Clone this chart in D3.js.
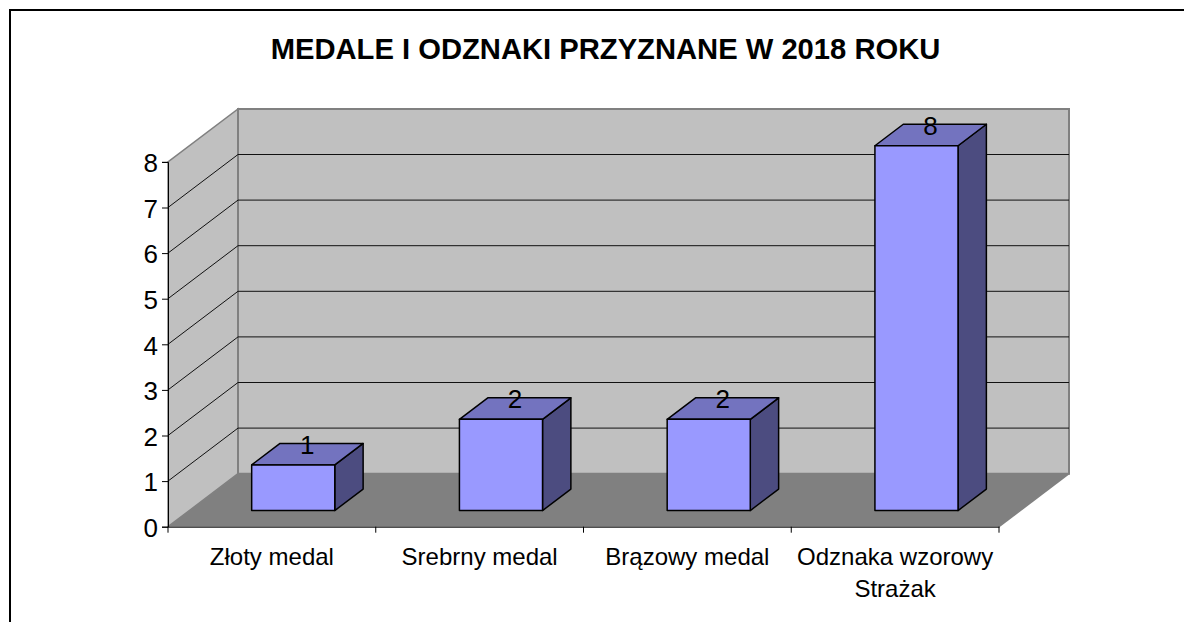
<!DOCTYPE html>
<html>
<head>
<meta charset="utf-8">
<script src="https://cdn.jsdelivr.net/npm/d3@7"></script>
<style>
  body { margin: 0; background: #fff; }
  text { font-family: "Liberation Sans", Arial, sans-serif; fill: #000; }
</style>
</head>
<body>
<script>
const categories = ["Złoty medal", "Srebrny medal", "Brązowy medal", "Odznaka wzorowy\nStrażak"];
const values = [1, 2, 2, 8];
const yTicks = [0, 1, 2, 3, 4, 5, 6, 7, 8];
const chartTitle = "MEDALE I ODZNAKI PRZYZNANE W 2018 ROKU";

function createChart() {
  let width = 1184, height = 622;
  // depth of the fake 3d box
  let depthX = 70, depthY = -53;

  let svg = d3.select("body").append("svg")
    .attr("width", width)
    .attr("height", height)
    .style("display", "block");

  let x = d3.scaleBand().domain(categories).range([168, 999]);
  let y = d3.scaleLinear().domain([0, 8]).range([526.7, 161.9]);

  // point at value v, horizontal pos px, and depth fraction z
  function pt(px, v, z) {
    return [px + depthX * z, y(v) + depthY * z];
  }
  let path = pts => "M" + pts.map(p => p.join(",")).join("L") + "Z";

  let x0 = x.range()[0], x1 = x.range()[1];

  // frame, only left and top are inside the picture
  svg.append("path")
    .attr("d", "M10,622V10H1184")
    .attr("fill", "none")
    .attr("stroke", "#000")
    .attr("stroke-width", 2);

  svg.append("text")
    .attr("x", 605.5)
    .attr("y", 59)
    .attr("text-anchor", "middle")
    .style("font-size", "29.2px")
    .style("font-weight", "bold")
    .text(chartTitle);

  // walls
  svg.append("path")
    .attr("d", path([pt(x0, 0, 0), pt(x0, 8, 0), pt(x0, 8, 1), pt(x0, 0, 1)]))
    .attr("fill", "#c0c0c0").attr("stroke", "#808080").attr("stroke-width", 1.5);
  svg.append("path")
    .attr("d", path([pt(x0, 0, 1), pt(x0, 8, 1), pt(x1, 8, 1), pt(x1, 0, 1)]))
    .attr("fill", "#c0c0c0").attr("stroke", "#808080").attr("stroke-width", 2);
  svg.append("path")
    .attr("d", path([pt(x0, 0, 0), pt(x0, 0, 1), pt(x1, 0, 1), pt(x1, 0, 0)]))
    .attr("fill", "#808080").attr("stroke", "none");
  svg.append("path")
    .attr("d", d3.line()([pt(x1, 0, 0), pt(x1, 0, 1)]))
    .attr("fill", "none").attr("stroke", "#808080").attr("stroke-width", 1.5);

  // gridlines on both walls
  let grid = yTicks.filter(t => t > 0 && t < 8);
  svg.append("g").selectAll("path")
    .data(grid)
    .enter().append("path")
    .attr("d", t => d3.line()([pt(x0, t, 0), pt(x0, t, 1), pt(x1, t, 1)]))
    .attr("fill", "none")
    .attr("stroke", "#111")
    .attr("stroke-width", 1);

  // axes
  let yAxis = svg.append("g")
    .attr("transform", "translate(" + x0 + ",0)")
    .call(d3.axisLeft(y).tickValues(yTicks).tickFormat(d3.format("d")).tickSize(6).tickPadding(4));
  yAxis.selectAll("text").attr("dy", "0.38em").style("font-size", "26px");

  let xAxis = svg.append("g")
    .attr("transform", "translate(0," + y(0) + ")")
    .call(d3.axisBottom(x).tickSize(0).tickFormat(""));

  // ticks sit on the band edges, not band centers
  let edges = categories.map(c => x(c)).concat([x1]);
  xAxis.selectAll(".edge")
    .data(edges)
    .enter().append("line")
    .attr("class", "edge")
    .attr("x1", d => d).attr("x2", d => d)
    .attr("y1", 0).attr("y2", 6)
    .attr("stroke", "#000");

  // category labels
  let labels = svg.append("g").selectAll("text")
    .data(categories)
    .enter().append("text")
    .attr("text-anchor", "middle")
    .attr("transform", d => "translate(" + (x(d) + x.bandwidth() / 2) + ",565)")
    .style("font-size", "24px");
  labels.selectAll("tspan")
    .data(d => d.split("\n"))
    .enter().append("tspan")
    .attr("x", 0)
    .attr("dy", (d, i) => i ? 32 : 0)
    .text(d => d);

  // bars
  let barW = x.bandwidth() * 0.4;
  let zFront = 0.305, zBack = 0.71;
  let bars = svg.append("g").selectAll("g")
    .data(values.map((v, i) => ({ v: v, c: categories[i] })))
    .enter().append("g")
    .attr("stroke", "#000")
    .attr("stroke-width", 1.5)
    .attr("stroke-linejoin", "round");

  let left = d => x(d.c) + x.bandwidth() / 2 - barW / 2;
  let right = d => left(d) + barW;

  bars.append("path")
    .attr("fill", "#4c4c80")
    .attr("d", d => path([pt(right(d), 0, zFront), pt(right(d), d.v, zFront), pt(right(d), d.v, zBack), pt(right(d), 0, zBack)]));
  bars.append("path")
    .attr("fill", "#7373bf")
    .attr("d", d => path([pt(left(d), d.v, zFront), pt(left(d), d.v, zBack), pt(right(d), d.v, zBack), pt(right(d), d.v, zFront)]));
  bars.append("path")
    .attr("fill", "#9999ff")
    .attr("d", d => path([pt(left(d), 0, zFront), pt(left(d), d.v, zFront), pt(right(d), d.v, zFront), pt(right(d), 0, zFront)]));

  // value labels
  svg.append("g").selectAll("text")
    .data(values.map((v, i) => ({ v: v, c: categories[i] })))
    .enter().append("text")
    .attr("text-anchor", "middle")
    .attr("x", d => pt((left(d) + right(d)) / 2, d.v, 0.505)[0])
    .attr("y", d => pt(left(d), d.v, zBack)[1] + 10.5)
    .style("font-size", "26px")
    .text(d => d.v);
}
createChart();
</script>
</body>
</html>
